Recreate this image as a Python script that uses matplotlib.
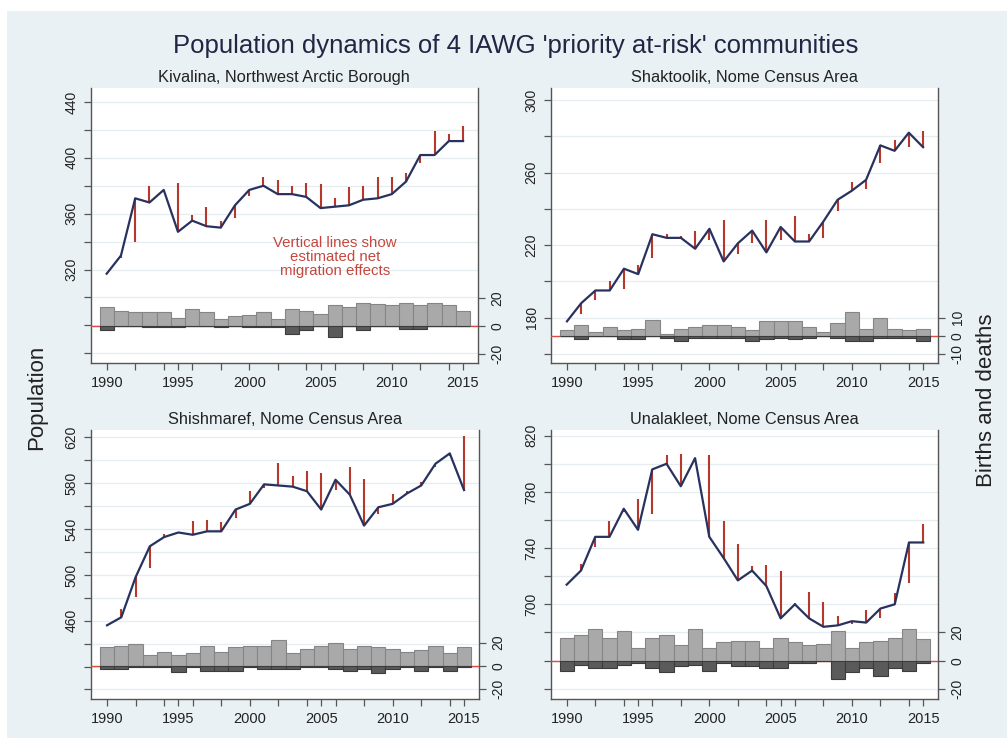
import numpy as np
import matplotlib.pyplot as plt
from matplotlib.patches import Rectangle

plt.rcParams['font.family'] = ['Liberation Sans', 'DejaVu Sans']

years = np.arange(1990, 2016)

# population, births and deaths per year, 1990-2015
kivalina_pop = [317, 330, 371, 368, 377, 347, 355, 351, 350, 366, 377, 380, 374,
                374, 372, 364, 365, 366, 370, 371, 374, 383, 402, 402, 412, 412]
kivalina_births = [14, 11, 10, 10, 10, 6, 12, 10, 5, 7, 8, 10, 5,
                   12, 11, 9, 15, 14, 17, 16, 15, 17, 15, 17, 15, 11]
kivalina_deaths = [3, 0, 0, 1, 1, 1, 0, 0, 1, 0, 1, 1, 1,
                   6, 3, 0, 8, 0, 3, 0, 0, 2, 2, 0, 0, 0]

shaktoolik_pop = [178, 188, 195, 195, 207, 204, 226, 224, 224, 218, 229, 211, 221,
                  228, 216, 230, 222, 222, 233, 245, 250, 256, 275, 272, 282, 274]
shaktoolik_births = [3, 6, 2, 5, 3, 4, 9, 1, 4, 5, 6, 6, 5,
                     3, 8, 8, 8, 5, 2, 7, 13, 4, 10, 4, 3, 4]
shaktoolik_deaths = [0, 2, 0, 0, 2, 2, 0, 1, 3, 1, 1, 1, 1,
                     3, 2, 1, 2, 1, 0, 1, 3, 3, 1, 1, 1, 3]

shishmaref_pop = [456, 463, 498, 525, 533, 537, 535, 538, 538, 557, 562, 579, 578,
                  577, 573, 557, 583, 570, 543, 559, 562, 571, 578, 597, 606, 574]
shishmaref_births = [16, 17, 19, 9, 12, 9, 11, 17, 12, 16, 17, 17, 22,
                     11, 15, 17, 20, 15, 17, 16, 15, 12, 14, 17, 11, 16]
shishmaref_deaths = [3, 3, 1, 1, 1, 5, 1, 4, 4, 4, 1, 3, 3,
                     3, 1, 1, 3, 4, 3, 6, 3, 1, 4, 1, 4, 1]

unalakleet_pop = [714, 724, 748, 748, 768, 753, 796, 800, 784, 804, 748, 733, 717,
                  724, 713, 690, 700, 690, 684, 685, 688, 687, 697, 700, 744, 744]
unalakleet_births = [16, 18, 22, 16, 21, 9, 16, 18, 11, 22, 9, 13, 14,
                     14, 9, 16, 13, 11, 12, 21, 9, 13, 14, 16, 22, 15]
unalakleet_deaths = [7, 3, 5, 5, 3, 2, 5, 8, 4, 3, 7, 2, 4,
                     4, 5, 5, 2, 2, 0, 13, 8, 5, 11, 5, 7, 2]

titles = ['Kivalina, Northwest Arctic Borough', 'Shaktoolik, Nome Census Area',
          'Shishmaref, Nome Census Area', 'Unalakleet, Nome Census Area']

# axes boxes in figure fractions and axis settings for each panel
boxes = [[0.0901, 0.5081, 0.3846, 0.3726],
         [0.5472, 0.5081, 0.3843, 0.3726],
         [0.0904, 0.0524, 0.3853, 0.3649],
         [0.5469, 0.0524, 0.3848, 0.3649]]
ylims = [(253, 450), (155, 306.6), (391.4, 626.4), (632.4, 824)]
ylab_start = [320, 180, 460, 700]
rlims = [(-26.7, 172), (-15.2, 137.8), (-28.6, 202.4), (-27.3, 162.8)]
rticks = [[-20, 0, 20], [-10, 0, 10], [-20, 0, 20], [-20, 0, 20]]

BG = '#eaf1f4'
NAVY = '#28325f'
SPIKE = '#b5382c'
ZERO = '#dd4a40'
TXT = '#222222'

fig = plt.figure(figsize=(10.07, 7.38), dpi=100)
fig.patches.append(Rectangle((7 / 1007, 0), 1, 1 - 11 / 738, transform=fig.transFigure,
                             facecolor=BG, edgecolor='none', zorder=-10))


def draw_panel(box, title, pop, births, deaths, ylim, lab0, rlim, rt):
    pop = np.array(pop, float)
    births = np.array(births, float)
    deaths = np.array(deaths, float)

    ax = fig.add_axes(box)
    ax.set_facecolor('white')
    ax.set_xlim(1988.88, 2016.05)
    ax.set_ylim(*ylim)

    # gridlines every 20, labels every 40
    grid = np.arange(np.ceil(ylim[0] / 20) * 20, ylim[1] + 0.1, 20)
    ax.set_yticks(grid)
    ax.set_yticklabels([str(int(g)) if (g >= lab0 and (g - lab0) % 40 == 0) else '' for g in grid],
                       rotation=90, va='center', fontsize=10, color=TXT)
    ax.grid(axis='y', color='#e6edf1', lw=0.9, zorder=0)
    ax.set_axisbelow(True)

    xt = sorted(set(range(1990, 2016, 2)) | {1995, 2005, 2015})
    ax.set_xticks(xt)
    ax.set_xticklabels([str(x) if x % 5 == 0 else '' for x in xt], fontsize=10.5, color=TXT)

    for s in ['top', 'right']:
        ax.spines[s].set_visible(False)
    for s in ['left', 'bottom']:
        ax.spines[s].set_color('#555555')
        ax.spines[s].set_linewidth(1.0)
    ax.tick_params(length=5, width=0.9, color='#555555', pad=4)

    # net migration: gap between observed population and last year's plus natural increase
    expected = pop[:-1] + births[1:] - deaths[1:]
    ax.vlines(years[1:], pop[1:], expected, color=SPIKE, lw=1.5, zorder=3)
    ax.plot(years, pop, color=NAVY, lw=1.6, zorder=4)

    ax.set_title(title, fontsize=11.8, color=TXT, pad=4)

    ax2 = ax.twinx()
    ax2.set_ylim(*rlim)
    ax2.axhline(0, color=ZERO, lw=1.0, zorder=1)
    ax2.bar(years, births, width=1.0, color='#a9a9a9', edgecolor='#858585', lw=0.8, zorder=2)
    ax2.bar(years, -deaths, width=1.0, color='#5a5a5a', edgecolor='#3c3c3c', lw=0.8, zorder=2)
    ax2.set_yticks(rt)
    ax2.set_yticklabels([str(t) for t in rt], rotation=90, va='center', fontsize=10, color=TXT)
    for s in ['top', 'left', 'bottom']:
        ax2.spines[s].set_visible(False)
    ax2.spines['right'].set_color('#555555')
    ax2.spines['right'].set_linewidth(1.0)
    ax2.tick_params(length=5, width=0.9, color='#555555', pad=4)
    return ax


data = [(kivalina_pop, kivalina_births, kivalina_deaths),
        (shaktoolik_pop, shaktoolik_births, shaktoolik_deaths),
        (shishmaref_pop, shishmaref_births, shishmaref_deaths),
        (unalakleet_pop, unalakleet_births, unalakleet_deaths)]

axes = []
for i, (p, b, d) in enumerate(data):
    axes.append(draw_panel(boxes[i], titles[i], p, b, d, ylims[i], ylab_start[i], rlims[i], rticks[i]))

axes[0].text(2006, 329.3, 'Vertical lines show\nestimated net\nmigration effects',
             ha='center', va='center', color='#c4483e', fontsize=10.8, linespacing=1.0, zorder=5)

fig.text(0.512, 0.937, "Population dynamics of 4 IAWG 'priority at-risk' communities",
         ha='center', va='center', fontsize=18.5, color='#1f2744')
fig.text(0.036, 0.462, 'Population', rotation=90, ha='center', va='center',
         fontsize=16, color=TXT)
fig.text(0.980, 0.457, 'Births and deaths', rotation=90, ha='center', va='center',
         fontsize=16, color=TXT)

fig.savefig('out.png', dpi=100)
